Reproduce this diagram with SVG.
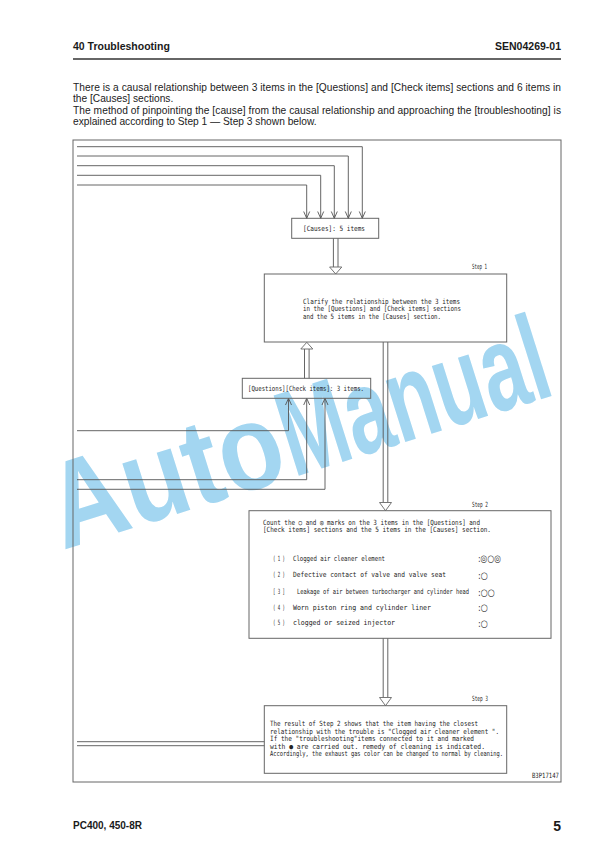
<svg xmlns="http://www.w3.org/2000/svg" width="612" height="866" viewBox="0 0 612 866">
<style>
.hd{font-family:"Liberation Sans",Arial,sans-serif;font-weight:bold;fill:#1a1a1a}
.body{font-family:"Liberation Sans",Arial,sans-serif;font-size:10.2px;fill:#222}
.d{font-family:"DejaVu Sans Mono","Liberation Mono",monospace;font-size:7.2px;fill:#222}
.mk{font-family:"DejaVu Sans",sans-serif;font-size:10px;fill:#333}
.box{fill:none;stroke:#666;stroke-width:1}
.ln{fill:none;stroke:#555;stroke-width:0.9}
.hw{fill:#fff;stroke:#666;stroke-width:0.9}
.wm{font-family:"Liberation Sans",Arial,sans-serif;font-weight:bold;font-size:122px;fill:#a3d6f1}
</style>
<rect width="612" height="866" fill="#fff"/>
<!-- watermark -->
<g id="watermark" transform="translate(63,550) rotate(-17.5)">
<text class="wm" transform="scale(0.86,1)" x="0" y="0" textLength="279" lengthAdjust="spacingAndGlyphs">Auto</text>
<text class="wm" transform="translate(242,0) scale(0.657,1)" x="0" y="0" textLength="420" lengthAdjust="spacingAndGlyphs">Manual</text>
</g>

<g id="header">
<text class="hd" x="73" y="49.5" font-size="10.5">40 Troubleshooting</text>
<text class="hd" x="561" y="49.5" font-size="10.5" text-anchor="end">SEN04269-01</text>
<line x1="73" y1="59" x2="561" y2="59" stroke="#333" stroke-width="1.5"/>
</g>
<g id="intro">
<text class="body" x="73" y="90.5" textLength="488" lengthAdjust="spacing">There is a causal relationship between 3 items in the [Questions] and [Check items] sections and 6 items in</text>
<text class="body" x="73" y="102">the [Causes] sections.</text>
<text class="body" x="73" y="113.5" textLength="488" lengthAdjust="spacing">The method of pinpointing the [cause] from the causal relationship and approaching the [troubleshooting] is</text>
<text class="body" x="73" y="125">explained according to Step 1 — Step 3 shown below.</text>
</g>
<rect id="frame" x="73" y="140" width="488" height="642" class="box"/>

<g id="connectors">
<path class="ln" d="M77,146.7 H362.3 V218.3 M77,156 H348.3 V218.3 M77,165.7 H334.3 V218.3 M77,175.3 H320.7 V218.3 M77,185 H306.7 V218.3"/>
<path class="ln" d="M359.3,211.5 L362.3,218.3 L365.3,211.5 M345.3,211.5 L348.3,218.3 L351.3,211.5 M331.3,211.5 L334.3,218.3 L337.3,211.5 M317.7,211.5 L320.7,218.3 L323.7,211.5 M303.7,211.5 L306.7,218.3 L309.7,211.5"/>
<path class="ln" d="M77,430.7 H288.5 V398.3 M77,479.7 H306.7 V398.3 M77,489.3 H325 V398.3"/>
<path class="ln" d="M285.5,405 L288.5,398.3 L291.5,405 M303.7,405 L306.7,398.3 L309.7,405 M322,405 L325,398.3 L328,405"/>
<path class="ln" d="M333.4,238.3 V267 M338,238.3 V267"/>
<polygon class="hw" points="329.6,267 341.8,267 335.7,274"/>
<path class="ln" d="M304.5,378.3 V349 M309.1,378.3 V349"/>
<polygon class="hw" points="300.8,349 312.8,349 306.8,342.3"/>
<path class="ln" d="M383.2,342 V502.5 M387.8,342 V502.5"/>
<polygon class="hw" points="379.5,502.5 391.5,502.5 385.5,510.7"/>
<path class="ln" d="M383.2,638.3 V697.5 M387.8,638.3 V697.5"/>
<polygon class="hw" points="379.5,697.5 391.5,697.5 385.5,705.7"/>
<path class="ln" d="M77,741.7 H264.3 M77,745.7 H264.3"/>
</g>

<g id="causes">
<rect class="box" x="291.7" y="218.3" width="87" height="20"/>
<g transform="scale(0.8,1)"><text class="d" x="378.75" y="231" textLength="77.5" lengthAdjust="spacingAndGlyphs">[Causes]: 5 items</text></g>
</g>

<g id="step1">
<rect class="box" x="264.3" y="274" width="242.4" height="68"/>
<g transform="scale(0.8,1)">
<text class="d" x="590" y="269.5" textLength="18.75" lengthAdjust="spacingAndGlyphs">Step 1</text>
<text class="d" x="378.75" y="304" textLength="196.25" lengthAdjust="spacingAndGlyphs">Clarify the relationship between the 3 items</text>
<text class="d" x="378.75" y="311.3" textLength="197.5" lengthAdjust="spacingAndGlyphs">in the [Questions] and [Check items] sections</text>
<text class="d" x="378.75" y="318.6" textLength="172.5" lengthAdjust="spacingAndGlyphs">and the 5 items in the [Causes] section.</text>
</g>
</g>

<g id="questions">
<rect class="box" x="242.3" y="378.3" width="128.4" height="20"/>
<g transform="scale(0.8,1)"><text class="d" x="310" y="391" textLength="145" lengthAdjust="spacingAndGlyphs">[Questions][Check items]: 3 items.</text></g>
</g>

<g id="step2">
<rect class="box" x="249" y="510.7" width="302" height="127.6"/>
<g transform="scale(0.8,1)">
<text class="d" x="590" y="507.5" textLength="20" lengthAdjust="spacingAndGlyphs">Step 2</text>
<text class="d" x="328.75" y="525" textLength="271.25" lengthAdjust="spacingAndGlyphs">Count the ○ and ◎ marks on the 3 items in the [Questions] and</text>
<text class="d" x="328.75" y="532.3" textLength="285" lengthAdjust="spacingAndGlyphs">[Check items] sections and the 5 items in the [Causes] section.</text>
<text class="d" x="341.25" y="561" textLength="15" lengthAdjust="spacingAndGlyphs">( 1 )</text>
<text class="d" x="366.25" y="561" textLength="115" lengthAdjust="spacingAndGlyphs">Clogged air cleaner element</text>
<text class="d" x="341.25" y="577.5" textLength="15" lengthAdjust="spacingAndGlyphs">( 2 )</text>
<text class="d" x="366.25" y="577.5" textLength="191.25" lengthAdjust="spacingAndGlyphs">Defective contact of valve and valve seat</text>
<text class="d" x="341.25" y="594.5" textLength="15" lengthAdjust="spacingAndGlyphs">[ 3 ]</text>
<text class="d" x="371.25" y="594.5" font-size="6.6px" textLength="215" lengthAdjust="spacingAndGlyphs">Leakage of air between turbocharger and cylinder head</text>
<text class="d" x="341.25" y="610" textLength="15" lengthAdjust="spacingAndGlyphs">( 4 )</text>
<text class="d" x="366.25" y="610" textLength="172.5" lengthAdjust="spacingAndGlyphs">Worn piston ring and cylinder liner</text>
<text class="d" x="341.25" y="625.5" textLength="15" lengthAdjust="spacingAndGlyphs">( 5 )</text>
<text class="d" x="366.25" y="625.5" textLength="127.5" lengthAdjust="spacingAndGlyphs">clogged or seized injector</text>
</g>
<text class="mk" x="478" y="562.3" textLength="23" lengthAdjust="spacingAndGlyphs">:◎○◎</text>
<text class="mk" x="478" y="578.8" textLength="10" lengthAdjust="spacingAndGlyphs">:○</text>
<text class="mk" x="478" y="595.8" textLength="17" lengthAdjust="spacingAndGlyphs">:○○</text>
<text class="mk" x="478" y="611.3" textLength="10" lengthAdjust="spacingAndGlyphs">:○</text>
<text class="mk" x="478" y="626.8" textLength="10" lengthAdjust="spacingAndGlyphs">:○</text>
</g>

<g id="step3">
<rect class="box" x="264.3" y="705.7" width="242.4" height="67.6"/>
<g transform="scale(0.8,1)">
<text class="d" x="590" y="701.5" textLength="20" lengthAdjust="spacingAndGlyphs">Step 3</text>
<text class="d" x="337.5" y="726.5" textLength="260" lengthAdjust="spacingAndGlyphs">The result of Step 2 shows that the item having the closest</text>
<text class="d" x="337.5" y="734" textLength="286.25" lengthAdjust="spacingAndGlyphs">relationship with the trouble is "Clogged air cleaner element ".</text>
<text class="d" x="337.5" y="741.5" textLength="255" lengthAdjust="spacingAndGlyphs">If the "troubleshooting"items connected to it and marked</text>
<text class="d" x="337.5" y="749" textLength="268.75" lengthAdjust="spacingAndGlyphs">with ● are carried out. remedy of cleaning is indicated.</text>
<text class="d" x="337.5" y="756.5" textLength="291.25" lengthAdjust="spacingAndGlyphs">Accordingly, the exhaust gas color can be changed to normal by cleaning.</text>
</g>
</g>
<g transform="scale(0.8,1)"><text class="d" x="665" y="778" textLength="33.75" lengthAdjust="spacingAndGlyphs">B3P17147</text></g>

<g id="footer">
<text class="hd" x="73" y="829" font-size="10px">PC400, 450-8R</text>
<text class="hd" x="561" y="831" font-size="14px" text-anchor="end">5</text>
</g>
</svg>
